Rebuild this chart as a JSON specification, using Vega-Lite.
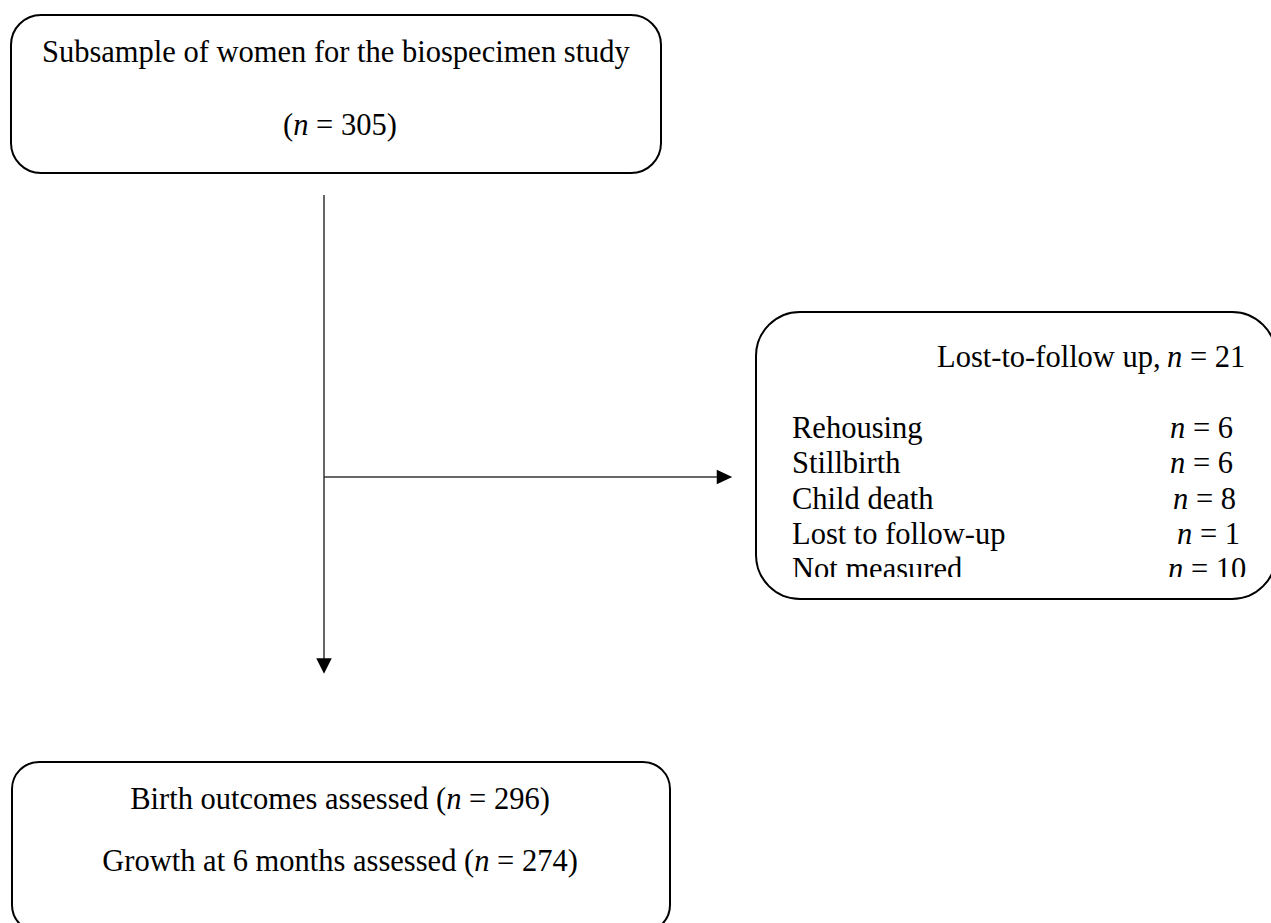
{
  "$schema": "https://vega.github.io/schema/vega-lite/v6.json",
  "width": 1271,
  "height": 923,
  "autosize": "none",
  "padding": 0,
  "background": "white",
  "config": {"view": {"stroke": null}},
  "datasets": {
    "boxes": [
      {"box": "top", "x": 11, "x2": 661, "y": 15, "y2": 173},
      {"box": "right", "x": 756, "x2": 1276, "y": 312, "y2": 599},
      {"box": "bottom", "x": 12, "x2": 670, "y": 762, "y2": 932}
    ],
    "lines": [
      {"x": 324, "x2": 324, "y": 195, "y2": 660},
      {"x": 324, "x2": 719, "y": 477, "y2": 477}
    ],
    "heads": [
      {"dir": "down", "x": 324, "y": 666},
      {"dir": "right", "x": 724.5, "y": 477}
    ],
    "mask": [
      {"x": 785, "x2": 1255, "y": 577, "y2": 588}
    ],
    "texts": [
      {"t": "Subsample of women for the biospecimen study", "x": 42, "y": 62},
      {"t": "(", "x": 283, "y": 135},
      {"t": "= 305)", "x": 316.1, "y": 135},
      {"t": "Lost-to-follow up,", "x": 937, "y": 367},
      {"t": "= 21", "x": 1189.9, "y": 367},
      {"t": "Rehousing", "x": 792, "y": 438},
      {"t": "Stillbirth", "x": 792, "y": 473.3},
      {"t": "Child death", "x": 792, "y": 508.7},
      {"t": "Lost to follow-up", "x": 792, "y": 544},
      {"t": "Not measured", "x": 792, "y": 579.3},
      {"t": "= 6", "x": 1192.9, "y": 438},
      {"t": "= 6", "x": 1192.9, "y": 473.3},
      {"t": "= 8", "x": 1195.9, "y": 508.7},
      {"t": "= 1", "x": 1199.9, "y": 544},
      {"t": "= 10", "x": 1190.9, "y": 579.3},
      {"t": "Birth outcomes assessed (", "x": 130.2, "y": 809},
      {"t": "= 296)", "x": 469.1, "y": 809},
      {"t": "Growth at 6 months assessed (", "x": 102.3, "y": 871},
      {"t": "= 274)", "x": 497.1, "y": 871}
    ],
    "italics": [
      {"t": "n", "x": 293.2, "y": 135},
      {"t": "n", "x": 1167, "y": 367},
      {"t": "n", "x": 1170, "y": 438},
      {"t": "n", "x": 1170, "y": 473.3},
      {"t": "n", "x": 1173, "y": 508.7},
      {"t": "n", "x": 1177, "y": 544},
      {"t": "n", "x": 1168, "y": 579.3},
      {"t": "n", "x": 446.2, "y": 809},
      {"t": "n", "x": 474.2, "y": 871}
    ]
  },
  "layer": [
    {
      "data": {"name": "lines"},
      "mark": {"type": "rule", "color": "#333333", "strokeWidth": 1.5},
      "encoding": {
        "x": {"field": "x", "type": "quantitative", "scale": {"domain": [0, 1271], "nice": false, "zero": false}, "axis": null},
        "x2": {"field": "x2"},
        "y": {"field": "y", "type": "quantitative", "scale": {"domain": [0, 923], "nice": false, "zero": false, "reverse": true}, "axis": null},
        "y2": {"field": "y2"}
      }
    },
    {
      "data": {"name": "heads"},
      "mark": {"type": "point", "filled": true, "color": "black", "opacity": 1, "size": 240, "strokeWidth": 0},
      "encoding": {
        "x": {"field": "x", "type": "quantitative"},
        "y": {"field": "y", "type": "quantitative"},
        "shape": {"field": "dir", "type": "nominal", "scale": {"domain": ["down", "right"], "range": ["M-1,-1L1,-1L0,1Z", "M-1,-0.95L1,0L-1,0.95Z"]}, "legend": null}
      }
    },
    {
      "data": {"name": "boxes"},
      "transform": [{"filter": "datum.box === 'top'"}],
      "mark": {"type": "rect", "fill": null, "fillOpacity": 0, "stroke": "black", "strokeWidth": 2, "cornerRadius": 30},
      "encoding": {
        "x": {"field": "x", "type": "quantitative"},
        "x2": {"field": "x2"},
        "y": {"field": "y", "type": "quantitative"},
        "y2": {"field": "y2"}
      }
    },
    {
      "data": {"name": "boxes"},
      "transform": [{"filter": "datum.box === 'right'"}],
      "mark": {"type": "rect", "fill": null, "fillOpacity": 0, "stroke": "black", "strokeWidth": 2, "cornerRadius": 44},
      "encoding": {
        "x": {"field": "x", "type": "quantitative"},
        "x2": {"field": "x2"},
        "y": {"field": "y", "type": "quantitative"},
        "y2": {"field": "y2"}
      }
    },
    {
      "data": {"name": "boxes"},
      "transform": [{"filter": "datum.box === 'bottom'"}],
      "mark": {"type": "rect", "fill": null, "fillOpacity": 0, "stroke": "black", "strokeWidth": 2, "cornerRadius": 27},
      "encoding": {
        "x": {"field": "x", "type": "quantitative"},
        "x2": {"field": "x2"},
        "y": {"field": "y", "type": "quantitative"},
        "y2": {"field": "y2"}
      }
    },
    {
      "data": {"name": "texts"},
      "mark": {"type": "text", "font": "Liberation Serif", "fontSize": 30.5, "align": "left", "baseline": "alphabetic", "color": "black"},
      "encoding": {
        "x": {"field": "x", "type": "quantitative"},
        "y": {"field": "y", "type": "quantitative"},
        "text": {"field": "t"}
      }
    },
    {
      "data": {"name": "italics"},
      "mark": {"type": "text", "font": "Liberation Serif", "fontSize": 30.5, "fontStyle": "italic", "align": "left", "baseline": "alphabetic", "color": "black"},
      "encoding": {
        "x": {"field": "x", "type": "quantitative"},
        "y": {"field": "y", "type": "quantitative"},
        "text": {"field": "t"}
      }
    },
    {
      "data": {"name": "mask"},
      "mark": {"type": "rect", "fill": "white", "stroke": null},
      "encoding": {
        "x": {"field": "x", "type": "quantitative"},
        "x2": {"field": "x2"},
        "y": {"field": "y", "type": "quantitative"},
        "y2": {"field": "y2"}
      }
    }
  ]
}
